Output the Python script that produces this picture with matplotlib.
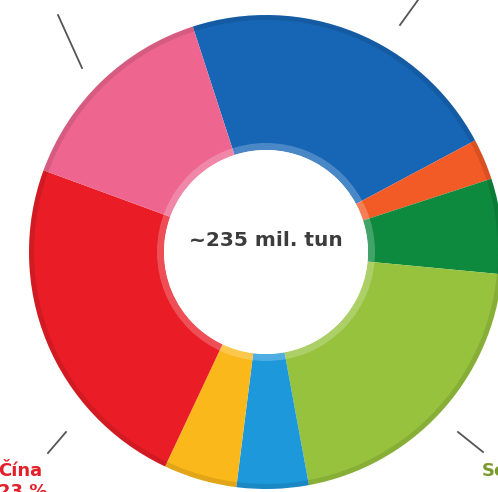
import matplotlib
matplotlib.use("Agg")
import matplotlib.pyplot as plt
from matplotlib.patches import Wedge, Circle

# Data (shares in %), clockwise from the top
segments = ["modrá", "oranžová", "tmavě zelená", "světle zelená", "světle modrá", "žlutá", "Čína", "růžová"]
shares = [22.2, 2.8, 6.5, 20.6, 4.9, 5.0, 23.6, 14.4]
colors = ["#1766b6", "#f25a26", "#0e8a3e", "#97c23d", "#1d98da", "#fbb81a", "#ea1d27", "#ee6690"]
center_label = "~235 mil. tun"
china_label = "Čína"
china_value = "23 %"
right_label = "Se"

W, H = 498, 492
fig = plt.figure(figsize=(W / 100, H / 100), dpi=100)
ax = fig.add_axes([0, 0, 1, 1])

cx, cy = 266, H - 252
R, r = 237, 102

wedges, _ = ax.pie(shares, colors=colors, startangle=108, counterclock=False,
                   center=(cx, cy), radius=R, frame=True,
                   wedgeprops=dict(width=R - r, linewidth=0))

# soft bevel: darker outer rim and lighter inner rim
ax.add_patch(Wedge((cx, cy), R, 0, 360, width=5, facecolor="black", alpha=0.10, lw=0))
ax.add_patch(Wedge((cx, cy), r + 7, 0, 360, width=7, facecolor="white", alpha=0.22, lw=0))
ax.add_patch(Circle((cx, cy), r, facecolor="white", lw=0))

ax.text(cx, H - 241, center_label, ha="center", va="center", fontsize=14.5,
        fontweight="bold", color="#3c3c3c", family="DejaVu Sans")

# leader lines
lc = "#555555"
ax.plot([58, 82], [H - 15, H - 68], color=lc, lw=1.3)
ax.plot([400, 418], [H - 25, H - 0], color=lc, lw=1.3)
ax.plot([48, 66], [H - 453, H - 432], color=lc, lw=1.3)
ax.plot([458, 483], [H - 432, H - 452], color=lc, lw=1.3)

ax.text(-2, H - 476, china_label, ha="left", va="baseline", fontsize=13,
        fontweight="bold", color="#e3202a")
ax.text(-2, H - 497, china_value, ha="left", va="baseline", fontsize=13,
        fontweight="bold", color="#e3202a")
ax.text(482, H - 476, right_label, ha="left", va="baseline", fontsize=13,
        fontweight="bold", color="#7a9b2b")

ax.set_xlim(0, W)
ax.set_ylim(0, H)
ax.set_aspect("equal")
ax.axis("off")
fig.savefig("out.png", dpi=100)
